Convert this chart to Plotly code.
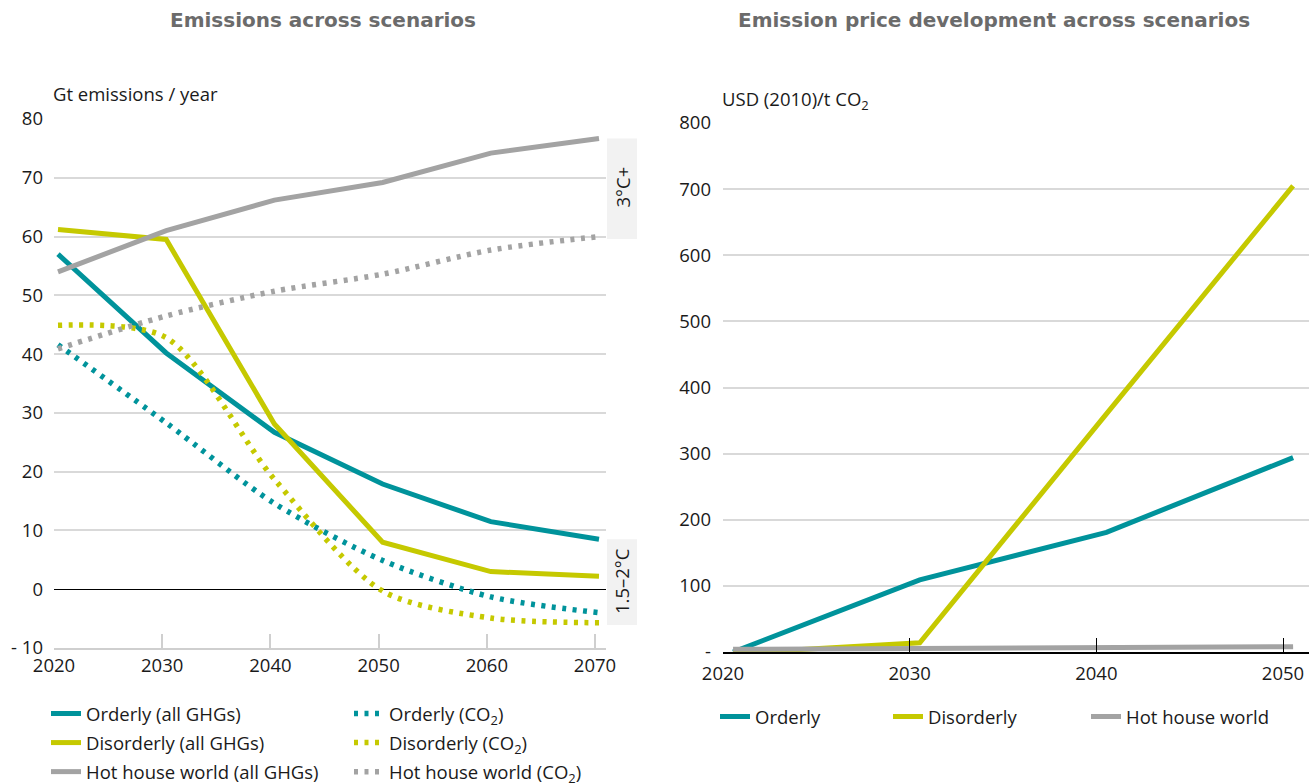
import plotly.graph_objects as go

W, H = 1311, 784

# ---------------- data ----------------
years_em = [2020, 2030, 2040, 2050, 2060, 2070]
orderly_ghg = [57.0, 40.2, 26.7, 17.9, 11.5, 8.5]
disorderly_ghg = [61.2, 59.5, 28.1, 8.0, 3.0, 2.2]
hothouse_ghg = [54.0, 61.0, 66.2, 69.2, 74.2, 76.7]
orderly_co2 = [41.6, 28.3, 14.6, 4.9, -1.3, -4.0]
disorderly_co2 = [44.9, 42.8, 18.7, -0.3, -4.9, -5.7]
hothouse_co2 = [40.9, 46.5, 50.7, 53.6, 57.7, 60.0]

years_price = [2020, 2030, 2040, 2050]
orderly_price = [0, 109, 181, 294]
disorderly_price = [-2, 14, 360, 705]
hothouse_price = [4, 5, 7, 8]

em_ticks = [-10, 0, 10, 20, 30, 40, 50, 60, 70, 80]
em_ticktext = ["- 10", "0", "10", "20", "30", "40", "50", "60", "70", "80"]
price_ticks = [0, 100, 200, 300, 400, 500, 600, 700, 800]
price_ticktext = ["-", "100", "200", "300", "400", "500", "600", "700", "800"]

TEAL = "#00939b"
LIME = "#c5c900"
GREY = "#a3a3a3"
FONT = "Open Sans"
FS = 18.5


def px_x(p):
    return p / W


def px_y(p):
    return 1 - p / H


fig = go.Figure()

# ---------- left chart ----------
solid = [("Orderly (all GHGs)", orderly_ghg, TEAL),
         ("Disorderly (all GHGs)", disorderly_ghg, LIME),
         ("Hot house world (all GHGs)", hothouse_ghg, GREY)]
dotted = [("Orderly (CO<sub>2</sub>)", orderly_co2, TEAL),
          ("Disorderly (CO<sub>2</sub>)", disorderly_co2, LIME),
          ("Hot house world (CO<sub>2</sub>)", hothouse_co2, GREY)]

for name, vals, col in solid:
    fig.add_trace(go.Scatter(x=years_em, y=vals, name=name, mode="lines",
                             line=dict(color=col, width=5),
                             xaxis="x", yaxis="y", legend="legend",
                             legendgroup=name))
for name, vals, col in dotted:
    fig.add_trace(go.Scatter(x=years_em, y=vals, name=name, mode="lines",
                             line=dict(color=col, width=5.5, dash="4px,6.5px",
                                       shape="spline", smoothing=0.8),
                             xaxis="x", yaxis="y", legend="legend2",
                             legendgroup=name))

# ---------- right chart ----------
price = [("Orderly", orderly_price, TEAL, "legend3"),
         ("Disorderly", disorderly_price, LIME, "legend4"),
         ("Hot house world", hothouse_price, GREY, "legend5")]
for name, vals, col, lg in price:
    fig.add_trace(go.Scatter(x=years_price, y=vals, name=name, mode="lines",
                             line=dict(color=col, width=5),
                             xaxis="x2", yaxis="y2", legend=lg))

# axis geometry
em_off = 0.37
pr_off = 0.54
tickfont = dict(family=FONT, size=FS, color="#1a1a1a")
legfont = dict(family=FONT, size=FS, color="#1a1a1a")

fig.update_layout(
    width=W, height=H,
    margin=dict(l=0, r=0, t=0, b=0, autoexpand=False),
    paper_bgcolor="white", plot_bgcolor="white",
    font=dict(family=FONT, size=FS, color="#1a1a1a"),
    xaxis=dict(domain=[px_x(54), px_x(606)],
               range=[2020 - em_off, 2020 + (606 - 58) / 10.82],
               tickvals=[y - em_off for y in years_em],
               ticktext=[str(y) for y in years_em],
               ticks="inside", ticklen=14, tickwidth=1.5, tickcolor="#cfcfcf",
               showline=True, linecolor="#cfcfcf", linewidth=2,
               showgrid=False, zeroline=False, tickfont=tickfont,
               ticklabelstandoff=0, anchor="y"),
    yaxis=dict(domain=[px_y(648), px_y(119)], range=[-10, 80],
               tickvals=em_ticks, ticktext=em_ticktext,
               showgrid=True, gridcolor="#d9d9d9", gridwidth=1.5,
               zeroline=True, zerolinecolor="#000000", zerolinewidth=1,
               showline=False, ticks="", ticklabelstandoff=10,
               tickfont=tickfont, anchor="x"),
    xaxis2=dict(domain=[px_x(723), px_x(1309)],
                range=[2020 - pr_off, 2020 + (1309 - 733) / 18.67],
                tickvals=[y - pr_off for y in years_price],
                ticktext=[str(y) for y in years_price],
                ticks="inside", ticklen=14, tickwidth=1.2, tickcolor="#000000",
                showline=True, linecolor="#000000", linewidth=1.5,
                showgrid=False, zeroline=False, tickfont=tickfont,
                ticklabelstandoff=4, anchor="y2"),
    yaxis2=dict(domain=[px_y(652), px_y(123)], range=[0, 800],
                tickvals=price_ticks, ticktext=price_ticktext,
                showgrid=True, gridcolor="#d9d9d9", gridwidth=1.5,
                zeroline=False, showline=False, ticks="", ticklabelstandoff=11,
                tickfont=tickfont, anchor="x2"),
    legend=dict(x=px_x(46), y=px_y(695), xanchor="left", yanchor="top",
                orientation="v", tracegroupgap=2, bgcolor="rgba(0,0,0,0)",
                font=legfont),
    legend2=dict(x=px_x(349), y=px_y(695), xanchor="left", yanchor="top",
                 orientation="v", tracegroupgap=2, bgcolor="rgba(0,0,0,0)",
                 font=legfont),
    legend3=dict(x=px_x(715), y=px_y(698), xanchor="left", yanchor="top",
                 bgcolor="rgba(0,0,0,0)", font=legfont),
    legend4=dict(x=px_x(888), y=px_y(698), xanchor="left", yanchor="top",
                 bgcolor="rgba(0,0,0,0)", font=legfont),
    legend5=dict(x=px_x(1086), y=px_y(698), xanchor="left", yanchor="top",
                 bgcolor="rgba(0,0,0,0)", font=legfont),
)

# scenario band boxes at the right of the left chart (spanning each group's 2070 values)
bands = [("3°C+", max(hothouse_ghg[-1], hothouse_co2[-1]), min(hothouse_ghg[-1], hothouse_co2[-1])),
         ("1.5–2°C", max(orderly_ghg[-1], disorderly_ghg[-1], orderly_co2[-1], disorderly_co2[-1]),
          min(orderly_ghg[-1], disorderly_ghg[-1], orderly_co2[-1], disorderly_co2[-1]))]
for label, top, bot in bands:
    fig.add_shape(type="rect", xref="paper", yref="y",
                  x0=px_x(607), x1=px_x(637), y0=bot - 0.4, y1=top,
                  fillcolor="#f2f2f2", line=dict(width=0), layer="below")
    fig.add_annotation(text=label, xref="paper", yref="y",
                       x=px_x(622), y=(top + bot) / 2, showarrow=False,
                       xanchor="center", yanchor="middle",
                       textangle=-90, font=dict(family=FONT, size=FS, color="#1a1a1a"))

# titles
title_font = dict(family="DejaVu Sans", size=20, color="#6b6b6b")
fig.add_annotation(text="<b>Emissions across scenarios</b>", xref="paper", yref="paper",
                   x=px_x(323), y=px_y(20), xanchor="center", yanchor="middle",
                   showarrow=False, font=title_font)
fig.add_annotation(text="<b>Emission price development across scenarios</b>",
                   xref="paper", yref="paper", x=px_x(994), y=px_y(20),
                   xanchor="center", yanchor="middle",
                   showarrow=False, font=title_font)

# axis unit labels
fig.add_annotation(text="Gt emissions / year", xref="paper", yref="paper",
                   x=px_x(51), y=px_y(93), xanchor="left", yanchor="middle",
                   showarrow=False, font=dict(family=FONT, size=FS, color="#1a1a1a"))
fig.add_annotation(text="USD (2010)/t CO<sub>2</sub>", xref="paper", yref="paper",
                   x=px_x(720), y=px_y(100), xanchor="left", yanchor="middle",
                   showarrow=False, font=dict(family=FONT, size=FS, color="#1a1a1a"))

fig.write_html("out.html", post_script="document.body.style.margin='0';",
               config={"displayModeBar": False})
